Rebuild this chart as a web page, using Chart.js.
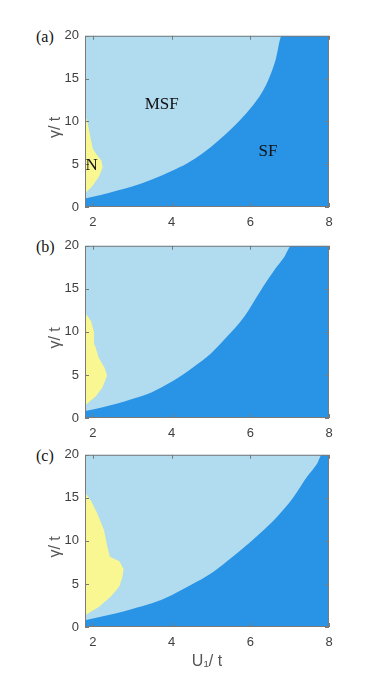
<!DOCTYPE html>
<html>
<head>
<meta charset="utf-8">
<script src="https://cdn.jsdelivr.net/npm/chart.js@4.4.1/dist/chart.umd.min.js"></script>
<style>
  html, body { margin: 0; padding: 0; background: #fff; }
  body { width: 381px; height: 677px; position: relative; overflow: hidden; }
  canvas { position: absolute; left: 0; }
  .tag { position: absolute; left: 36px; font-family: "Liberation Serif", "Times New Roman", serif; font-size: 16px; line-height: 16px; color: #111; }
</style>
</head>
<body>
<div class="tag" style="top:29px">(a)</div>
<div class="tag" style="top:239px">(b)</div>
<div class="tag" style="top:448px">(c)</div>
<canvas id="chartA" width="381" height="204" style="top:22px"></canvas>
<canvas id="chartB" width="381" height="205" style="top:232px"></canvas>
<canvas id="chartC" width="381" height="236" style="top:441px"></canvas>
<script>
// tick labels
const xTicks = [2, 4, 6, 8];
const yTicks = [0, 5, 10, 15, 20];

// (a) SF / MSF boundary and N region outline
const sfXa = [1.8, 2.2, 2.6, 3.0, 3.5, 4.0, 4.4, 4.8, 5.2, 5.6, 6.0, 6.3, 6.5, 6.65, 6.8, 8.0];
const sfYa = [1.0, 1.4, 1.9, 2.4, 3.2, 4.2, 5.1, 6.3, 7.8, 9.5, 11.5, 13.4, 15.3, 17.3, 20, 20];
const nXa = [1.8, 1.98, 2.15, 2.25, 2.22, 2.1, 2.0, 1.92, 1.86, 1.8, 1.8];
const nYa = [1.6, 2.4, 3.5, 4.6, 5.4, 6.1, 6.8, 8.5, 10.0, 10.8, 1.6];

// (b)
const sfXb = [1.8, 2.2, 2.6, 3.0, 3.5, 4.0, 4.55, 5.0, 5.4, 5.85, 6.25, 6.6, 6.85, 7.05, 8.0];
const sfYb = [0.8, 1.2, 1.65, 2.2, 3.0, 4.2, 5.9, 7.5, 9.4, 11.8, 14.7, 17.1, 18.6, 20, 20];
const nXb = [1.8, 2.07, 2.24, 2.36, 2.3, 2.15, 2.05, 2.03, 1.95, 1.8, 1.8];
const nYb = [1.45, 2.5, 3.5, 4.9, 5.8, 7.0, 8.5, 10.0, 11.3, 12.2, 1.45];

// (c)
const sfXc = [1.8, 2.2, 2.6, 3.0, 3.5, 4.0, 4.5, 5.0, 5.4, 5.8, 6.25, 6.7, 7.1, 7.45, 7.7, 7.82, 8.0];
const sfYc = [0.78, 1.2, 1.6, 2.1, 2.75, 3.7, 4.9, 6.2, 7.6, 9.1, 10.9, 12.9, 15.1, 17.5, 19.0, 20, 20];
const nXc = [1.8, 2.15, 2.45, 2.6, 2.68, 2.75, 2.78, 2.68, 2.5, 2.43, 2.36, 2.28, 2.11, 1.95, 1.8, 1.8];
const nYc = [1.36, 2.33, 3.5, 4.3, 4.8, 5.8, 6.7, 7.6, 8.0, 8.2, 9.5, 11.3, 13.2, 14.7, 15.6, 1.36];

const LIGHT = "#b1dbee";
const DARK = "#2993e6";
const YELLOW = "#f8f791";
const AXIS = "#7a7a7a";
const TXT = "#404040";

function pts(xs, ys) {
    return xs.map((x, i) => ({ x: x, y: ys[i] }));
}

const phasePlugin = {
    id: "phase",
    beforeDatasetsDraw(chart) {
        const a = chart.chartArea;
        const ctx = chart.ctx;
        ctx.save();
        ctx.fillStyle = LIGHT;
        ctx.fillRect(a.left, a.top, a.right - a.left, a.bottom - a.top);
        ctx.restore();
    },
    afterDraw(chart, args, opts) {
        const a = chart.chartArea;
        const ctx = chart.ctx;
        const xs = chart.scales.x;
        const ys = chart.scales.y;
        ctx.save();
        ctx.strokeStyle = AXIS;
        ctx.lineWidth = 1;
        ctx.strokeRect(a.left + 0.5, a.top + 0.5, a.right - a.left - 1, a.bottom - a.top - 1);
        ctx.beginPath();
        xTicks.forEach((v) => {
            const px = Math.round(xs.getPixelForValue(v)) + 0.5;
            ctx.moveTo(px, a.bottom); ctx.lineTo(px, a.bottom - 4);
            ctx.moveTo(px, a.top); ctx.lineTo(px, a.top + 4);
        });
        yTicks.forEach((v) => {
            const py = Math.round(ys.getPixelForValue(v)) + 0.5;
            ctx.moveTo(a.left, py); ctx.lineTo(a.left + 4, py);
            ctx.moveTo(a.right, py); ctx.lineTo(a.right - 4, py);
        });
        ctx.stroke();

        // region names
        ctx.fillStyle = "#111";
        ctx.font = "17px 'Liberation Serif', serif";
        ctx.textAlign = "center";
        ctx.textBaseline = "middle";
        (opts.labels || []).forEach((l) => {
            ctx.fillText(l.text, xs.getPixelForValue(l.x), ys.getPixelForValue(l.y));
        });

        // y axis title
        ctx.fillStyle = "#555";
        ctx.font = "16px 'Liberation Sans', Arial, sans-serif";
        ctx.translate(56, (a.top + a.bottom) / 2 + 6);
        ctx.rotate(-Math.PI / 2);
        ctx.fillText("γ/ t", 0, 0);
        ctx.restore();
    },
};

function makeChart(id, sfX, sfY, nX, nY, labels, xTitle) {
    const tickFont = { family: "'Liberation Sans', Arial, sans-serif", size: 13 };
    return new Chart(document.getElementById(id), {
        type: "line",
        data: {
            datasets: [
                {
                    label: "N",
                    data: pts(nX, nY),
                    fill: "shape",
                    backgroundColor: YELLOW,
                    borderWidth: 0,
                    pointRadius: 0,
                    tension: 0,
                    order: 0,
                },
                {
                    label: "SF",
                    data: pts(sfX, sfY),
                    fill: "start",
                    backgroundColor: DARK,
                    borderWidth: 0,
                    pointRadius: 0,
                    cubicInterpolationMode: "monotone",
                    order: 1,
                },
            ],
        },
        options: {
            responsive: false,
            animation: false,
            devicePixelRatio: 1,
            layout: { padding: { top: 6, right: 52, left: 0, bottom: 0 } },
            plugins: {
                legend: { display: false },
                tooltip: { enabled: false },
                phase: { labels: labels },
            },
            scales: {
                x: {
                    type: "linear",
                    min: 1.8,
                    max: 8,
                    afterBuildTicks: (s) => { s.ticks = xTicks.map((v) => ({ value: v })); },
                    afterFit: (s) => { s.height = xTitle ? 50 : 19; },
                    grid: { display: false, drawTicks: false },
                    border: { display: false },
                    ticks: { padding: 8, color: TXT, font: tickFont, maxRotation: 0 },
                    title: {
                        display: !!xTitle,
                        text: "U₁/ t",
                        color: "#555",
                        font: { family: "'Liberation Sans', Arial, sans-serif", size: 16 },
                        padding: { top: 0, bottom: 6 },
                    },
                },
                y: {
                    min: 0,
                    max: 20,
                    afterBuildTicks: (s) => { s.ticks = yTicks.map((v) => ({ value: v })); },
                    afterFit: (s) => { s.width = 85; },
                    grid: { display: false, drawTicks: false },
                    border: { display: false },
                    ticks: { padding: 6, color: TXT, font: tickFont },
                },
            },
        },
        plugins: [phasePlugin],
    });
}

makeChart("chartA", sfXa, sfYa, nXa, nYa, [
    { text: "MSF", x: 3.75, y: 12.0 },
    { text: "SF", x: 6.45, y: 6.5 },
    { text: "N", x: 1.97, y: 4.8 },
], false);
makeChart("chartB", sfXb, sfYb, nXb, nYb, [], false);
makeChart("chartC", sfXc, sfYc, nXc, nYc, [], true);
</script>
</body>
</html>
